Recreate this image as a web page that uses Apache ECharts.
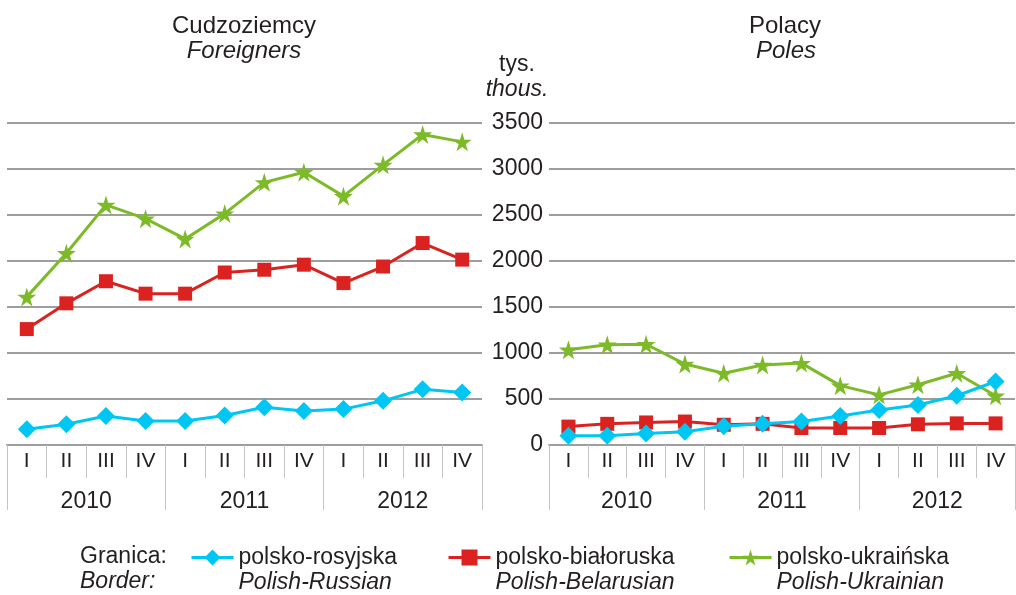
<!DOCTYPE html>
<html>
<head>
<meta charset="utf-8">
<title>Granica</title>
<script src="https://cdn.jsdelivr.net/npm/echarts@6/dist/echarts.min.js"></script>
<style>
  html, body { margin: 0; padding: 0; background: #fff; }
  #chart { width: 1016px; height: 595px; }
</style>
</head>
<body>
<div id="chart"></div>
<script>
// kwartały i lata
var quarters = ["I", "II", "III", "IV", "I", "II", "III", "IV", "I", "II", "III", "IV"];
var years = ["2010", "2011", "2012"];
var yTicks = [0, 500, 1000, 1500, 2000, 2500, 3000, 3500];

// Cudzoziemcy / Foreigners (tys.)
var forRu = [170, 225, 315, 260, 260, 320, 410, 370, 390, 480, 605, 570];
var forBy = [1260, 1540, 1780, 1645, 1645, 1875, 1905, 1960, 1760, 1940, 2195, 2015];
var forUa = [1610, 2085, 2610, 2460, 2240, 2515, 2855, 2965, 2705, 3045, 3375, 3295];

// Polacy / Poles (tys.)
var polRu = [100, 100, 125, 145, 205, 230, 255, 315, 380, 435, 535, 690];
var polBy = [200, 230, 245, 255, 220, 230, 185, 185, 185, 225, 235, 235];
var polUa = [1035, 1090, 1095, 880, 780, 870, 890, 645, 545, 655, 780, 535];

var names = ["polsko-rosyjska", "polsko-białoruska", "polsko-ukraińska"];
var namesEn = ["Polish-Russian", "Polish-Belarusian", "Polish-Ukrainian"];
var colors = ["#00c6f4", "#da2320", "#7cba28"];

var FONT = "Liberation Sans, Arial, sans-serif";
var TXT = "#231f20";
var STAR = "path://M50,0 L61,35 L98,35 L68,57 L79,91 L50,70 L21,91 L32,57 L2,35 L39,35 Z";
var symbols = ["diamond", "rect", STAR];
var symSizes = [18, 14, 19];

function qAxis(grid) {
  return {
    type: "category",
    gridIndex: grid,
    data: quarters,
    position: "bottom",
    axisLine: { lineStyle: { color: "#9e9e9e", width: 2 } },
    axisTick: { show: true, interval: 0, length: 33, lineStyle: { color: "#c4c4c4", width: 1 } },
    axisLabel: { interval: 0, color: TXT, fontSize: 21, fontFamily: FONT, margin: 6 },
    splitLine: { show: false }
  };
}
function yearAxis(grid) {
  return {
    type: "category",
    gridIndex: grid,
    data: years,
    position: "bottom",
    offset: 33,
    axisLine: { show: false },
    axisTick: { show: true, interval: 0, length: 32, lineStyle: { color: "#c4c4c4", width: 1 } },
    axisLabel: { interval: 0, color: TXT, fontSize: 23, fontFamily: FONT, margin: 12 },
    splitLine: { show: false }
  };
}
function valAxis(grid, showLabels) {
  return {
    type: "value",
    gridIndex: grid,
    min: yTicks[0],
    max: yTicks[yTicks.length - 1],
    interval: 500,
    axisLine: { show: false },
    axisTick: { show: false },
    axisLabel: {
      show: showLabels, color: TXT, fontSize: 23, fontFamily: FONT, margin: 6,
      formatter: function (v) { return String(v); }
    },
    splitLine: { lineStyle: { color: "#9e9e9e", width: 2 } }
  };
}
function line(i, data, xi, yi) {
  return {
    name: names[i],
    type: "line",
    xAxisIndex: xi,
    yAxisIndex: yi,
    data: data,
    symbol: symbols[i],
    symbolSize: symSizes[i],
    showSymbol: true,
    lineStyle: { color: colors[i], width: 3 },
    itemStyle: { color: colors[i] }
  };
}
function legendFor(i, left) {
  return {
    data: [names[i]],
    left: left,
    top: 516,
    itemWidth: 42,
    itemHeight: 20,
    itemGap: 0,
    lineStyle: { width: 3 },
    formatter: function (n) {
      return "{e| }\n{a|" + n + "}\n{b|" + namesEn[names.indexOf(n)] + "}";
    },
    textStyle: {
      rich: {
        e: { fontSize: 23, lineHeight: 25, fontFamily: FONT },
        a: { fontSize: 23, lineHeight: 25, color: TXT, fontFamily: FONT },
        b: { fontSize: 23, lineHeight: 25, color: TXT, fontStyle: "italic", fontFamily: FONT }
      }
    }
  };
}
function label(text, x, y, italic, align, size) {
  return {
    type: "text",
    x: x,
    y: y,
    style: {
      text: text,
      fill: TXT,
      font: (italic ? "italic " : "") + (size || 23) + "px " + FONT,
      textAlign: align || "center",
      textVerticalAlign: "middle"
    }
  };
}

var chart = echarts.init(document.getElementById("chart"));
chart.setOption({
  animation: false,
  grid: [
    { left: 7, right: 534, top: 123, bottom: 150 },
    { left: 549, right: 1, top: 123, bottom: 150 }
  ],
  xAxis: [qAxis(0), yearAxis(0), qAxis(1), yearAxis(1)],
  yAxis: [valAxis(0, false), valAxis(1, true)],
  legend: [legendFor(0, 185), legendFor(1, 442), legendFor(2, 723)],
  graphic: [
    label("Cudzoziemcy", 244, 26, false, "center", 24),
    label("Foreigners", 244, 51, true, "center", 24),
    label("Polacy", 785, 26, false, "center", 24),
    label("Poles", 786, 51, true, "center", 24),
    label("tys.", 517, 65, false),
    label("thous.", 517, 90, true),
    label("Granica:", 80, 557, false, "left"),
    label("Border:", 80, 582, true, "left")
  ],
  series: [
    line(1, forBy, 0, 0),
    line(2, forUa, 0, 0),
    line(0, forRu, 0, 0),
    line(1, polBy, 2, 1),
    line(2, polUa, 2, 1),
    line(0, polRu, 2, 1)
  ]
});
</script>
</body>
</html>
